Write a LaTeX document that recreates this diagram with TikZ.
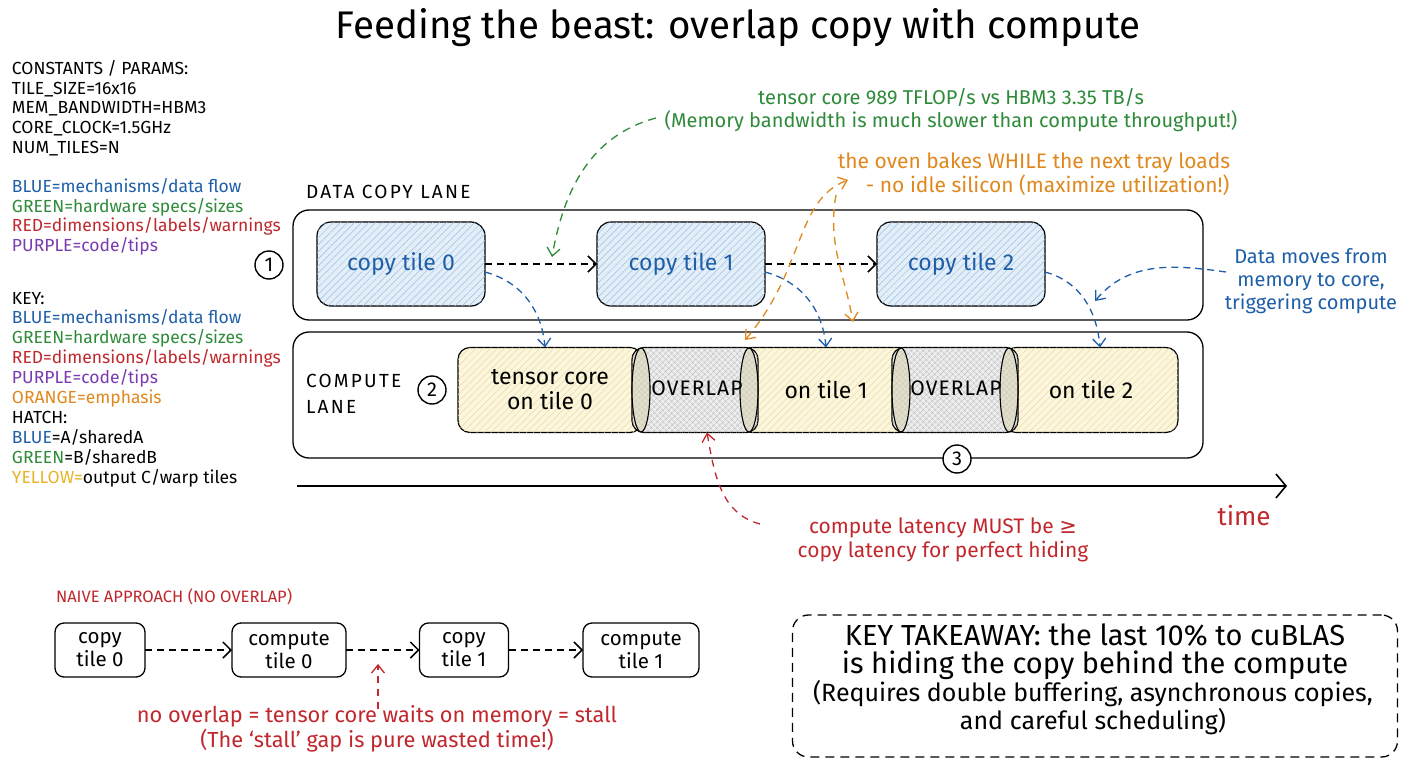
\documentclass[tikz,border=0pt]{standalone}
\usepackage{fontspec}
\setmainfont{Fira Sans}
\newfontfamily\symfont{DejaVu Sans}
\usetikzlibrary{arrows.meta,patterns.meta}
\definecolor{cblue}{HTML}{1F5FA8}
\definecolor{cgreen}{HTML}{2E8B3A}
\definecolor{cred}{HTML}{C0282D}
\definecolor{cpurple}{HTML}{7A3AB0}
\definecolor{corange}{HTML}{E0881E}
\definecolor{cyellow}{HTML}{E6B422}
\definecolor{bfill}{HTML}{E3EEF8}
\definecolor{bhatch}{HTML}{9CC0E2}
\definecolor{yfill}{HTML}{FBF6DC}
\definecolor{yhatch}{HTML}{EADCA6}
\definecolor{gfill}{HTML}{ECECEC}
\definecolor{ghatch}{HTML}{B8B8B8}
\definecolor{capfill}{HTML}{D8D3B0}
\begin{document}
\begin{tikzpicture}[x=1pt,y=-1pt,
 every node/.style={inner sep=0pt, outer sep=0pt},
 lane/.style={draw, line width=1.3pt, rounded corners=16pt},
 copybox/.style={draw, line width=1.2pt, rounded corners=14pt, minimum width=168pt, minimum height=84pt, fill=bfill, postaction={pattern={Lines[angle=45,distance=5pt,line width=0.5pt]}, pattern color=bhatch}, text=cblue, font=\fontsize{23}{27}\selectfont},
 compbox/.style={draw, line width=1.2pt, rounded corners=12pt, minimum height=85pt, fill=yfill, postaction={pattern={Lines[angle=45,distance=5pt,line width=0.5pt]}, pattern color=yhatch}, align=center, font=\fontsize{23}{25}\selectfont},
 ovbox/.style={draw, line width=1.2pt, rounded corners=12pt, minimum width=126pt, minimum height=85pt, fill=gfill, postaction={pattern={Hatch[angle=45,distance=4pt,line width=0.4pt]}, pattern color=ghatch}},
 ovtext/.style={font=\fontsize{21}{24}\selectfont\addfontfeature{LetterSpace=5}},
 capshape/.style={draw, line width=1.1pt, fill=capfill, fill opacity=0.55},
 num/.style={circle, draw, line width=1.4pt, minimum size=28pt, fill=white, font=\fontsize{20}{22}\selectfont},
 naive/.style={draw, line width=1.3pt, rounded corners=9pt, minimum height=54pt, align=center, font=\fontsize{20.5}{23}\selectfont},
 lanelab/.style={font=\fontsize{19}{26}\selectfont\addfontfeature{LetterSpace=12}},
 flow/.style={dash pattern=on 7pt off 5pt, line width=1.5pt, -{Straight Barb[length=8pt,width=16pt,line width=1.5pt]}},
 bflow/.style={draw=cblue, dash pattern=on 7pt off 5pt, line width=1.3pt, -{Straight Barb[length=8pt,width=13pt,line width=1.3pt]}},
 gflow/.style={draw=cgreen, dash pattern=on 8pt off 6pt, line width=1.3pt, -{Straight Barb[length=8pt,width=13pt,line width=1.3pt]}},
 oflow/.style={draw=corange, dash pattern=on 8pt off 6pt, line width=1.3pt, -{Straight Barb[length=8pt,width=13pt,line width=1.3pt]}},
 rflow/.style={draw=cred, dash pattern=on 7pt off 6pt, line width=1.3pt, -{Straight Barb[length=8pt,width=13pt,line width=1.3pt]}},
 legend/.style={align=left, anchor=north west, font=\fontsize{17.5}{19.9}\selectfont},
]
\useasboundingbox[fill=white] (0,0) rectangle (1408,768);

% title
\node[font=\fontsize{38.5}{44}\selectfont] (title) at (738,28) {Feeding the beast: overlap copy with compute};

% left legends
\node[legend] (params) at (12,60) {CONSTANTS / PARAMS:\\TILE\_SIZE=16x16\\MEM\_BANDWIDTH=HBM3\\CORE\_CLOCK=1.5GHz\\NUM\_TILES=N};
\node[legend] (leg1) at (12,178) {\textcolor{cblue}{BLUE=mechanisms/data flow}\\\textcolor{cgreen}{GREEN=hardware specs/sizes}\\\textcolor{cred}{RED=dimensions/labels/warnings}\\\textcolor{cpurple}{PURPLE=code/tips}};
\node[legend] (leg2) at (12,292) {KEY:\\\textcolor{cblue}{BLUE=mechanisms/data flow}\\\textcolor{cgreen}{GREEN=hardware specs/sizes}\\\textcolor{cred}{RED=dimensions/labels/warnings}\\\textcolor{cpurple}{PURPLE=code/tips}\\\textcolor{corange}{ORANGE=emphasis}\\HATCH:\\\textcolor{cblue}{BLUE}=A/sharedA\\\textcolor{cgreen}{GREEN}=B/sharedB\\\textcolor{cyellow}{YELLOW=}output C/warp tiles};

% lanes
\node[lane, minimum width=910pt, minimum height=110pt] (lane1) at (748,265) {};
\node[lane, minimum width=910pt, minimum height=126pt] (lane2) at (748,395) {};
\node[anchor=west, lanelab] (l1lab) at (306,192) {DATA COPY LANE};
\node[anchor=west, align=left, lanelab] (l2lab) at (306,394) {COMPUTE\\LANE};

% copy tiles
\node[copybox] (c0) at (401,264) {copy tile 0};
\node[copybox] (c1) at (681,264) {copy tile 1};
\node[copybox] (c2) at (961,264) {copy tile 2};

% compute tiles
\node[compbox, minimum width=184pt] (t0) at (550,390) {tensor core\\on tile 0};
\node[compbox, minimum width=172pt] (t1) at (826,390) {on tile 1};
\node[compbox, minimum width=174pt] (t2) at (1091,390) {on tile 2};

% overlaps
\node[ovbox] (ov1) at (695,390) {};
\node[ovbox] (ov2) at (955,390) {};
\draw[capshape] ([xshift=9pt]ov1.west) ellipse [x radius=9pt, y radius=42pt];
\draw[capshape] ([xshift=-9pt]ov1.east) ellipse [x radius=9pt, y radius=42pt];
\draw[capshape] ([xshift=9pt]ov2.west) ellipse [x radius=9pt, y radius=42pt];
\draw[capshape] ([xshift=-9pt]ov2.east) ellipse [x radius=9pt, y radius=42pt];
\node[ovtext] (ov1t) at (697,388) {OVERLAP};
\node[ovtext] (ov2t) at (956,388) {OVERLAP};

% numbers
\node[num] (n1) at (269,265) {1};
\node[num] (n2) at (432,390) {2};
\node[num] (n3) at (957,459) {3};

% copy flow
\draw[flow] (c0.east) -- (c1.west);
\draw[flow] (c1.east) -- (c2.west);

% data movement arrows
\draw[bflow] ([yshift=-8pt]c0.east) to[out=-15,in=95] ([xshift=-5pt]t0.north);
\draw[bflow] ([yshift=-8pt]c1.east) to[out=-15,in=95] (t1.north);
\draw[bflow] ([yshift=-8pt]c2.east) to[out=-15,in=95] ([xshift=9pt]t2.north);

% time axis
\coordinate (ax0) at (297,486);
\coordinate (ax1) at (1287,486);
\draw[line width=1.6pt, -{Straight Barb[length=10pt,width=24pt,line width=1.6pt]}] (ax0) -- (ax1);
\node[text=cred, font=\fontsize{26}{30}\selectfont] (time) at (1244,516) {time};

% annotations
\node[text=cgreen, align=center, font=\fontsize{20}{23}\selectfont] (gt) at (951,110) {tensor core 989 TFLOP/s vs HBM3 3.35 TB/s\\(Memory bandwidth is much slower than compute throughput!)};
\node[text=corange, align=center, font=\fontsize{21}{24}\selectfont] (ot) at (1034,174) {the oven bakes WHILE the next tray loads\\\hspace*{1.3em}- no idle silicon (maximize utilization!)};
\node[text=cblue, align=center, font=\fontsize{20}{23}\selectfont] (dm) at (1311,281) {Data moves from\\memory to core,\\triggering compute};
\node[text=cred, align=center, font=\fontsize{21}{24}\selectfont] (rt) at (943,540) {compute latency MUST be {\symfont ≥}\\copy latency for perfect hiding};

\coordinate (gs) at (656,118);
\coordinate (ge) at (552,257);
\draw[gflow] (gs) to[out=195,in=80] (ge);

\coordinate (dms) at (1226,272);
\coordinate (dme) at (1095,301);
\draw[bflow] (dms) to[out=172,in=50] (dme);

\coordinate (oa) at (848,180);
\coordinate (ob) at (745,340);
\draw[oflow, {Straight Barb[length=8pt,width=13pt,line width=1.3pt]}-{Straight Barb[length=8pt,width=13pt,line width=1.3pt]}] (ob) .. controls (805,270) and (795,200) .. (oa);
\coordinate (oc) at (836,195);
\coordinate (od) at (853,322);
\draw[oflow] (oc) to[out=-100,in=100] (od);

\coordinate (rs) at (760,524);
\draw[rflow] (rs) to[out=165,in=-80] ([xshift=12pt]ov1.south);

% naive approach
\node[anchor=west, text=cred, font=\fontsize{16.5}{20}\selectfont] (nlab) at (56,597) {NAIVE APPROACH (NO OVERLAP)};
\node[naive, minimum width=90pt] (m0) at (100,650) {copy\\tile 0};
\node[naive, minimum width=114pt] (m1) at (289,650) {compute\\tile 0};
\node[naive, minimum width=89pt] (m2) at (464,650) {copy\\tile 1};
\node[naive, minimum width=116pt] (m3) at (641,650) {compute\\tile 1};
\draw[flow] (m0.east) -- (m1.west);
\draw[flow] (m1.east) -- (m2.west);
\draw[flow] (m2.east) -- (m3.west);
\node[text=cred, align=center, font=\fontsize{21.8}{25}\selectfont] (st) at (377,729) {no overlap = tensor core waits on memory = stall\\(The `stall' gap is pure wasted time!)};
\coordinate (sa) at (378,664);
\draw[rflow] ([yshift=-3pt]st.north -| sa) -- (sa);

% key takeaway
\node[draw, dash pattern=on 9pt off 6pt, line width=1.3pt, rounded corners=16pt, minimum width=605pt, minimum height=142pt] (kt) at (1095,686) {};
\node[align=center, font=\fontsize{29}{28}\selectfont] (kt1) at (1095,652) {KEY TAKEAWAY: the last 10\% to cuBLAS\\is hiding the copy behind the compute};
\node[align=center, font=\fontsize{25}{28}\selectfont] (kt2) at (1093,708) {(Requires double buffering, asynchronous copies,\\and careful scheduling)};
\end{tikzpicture}
\end{document}
